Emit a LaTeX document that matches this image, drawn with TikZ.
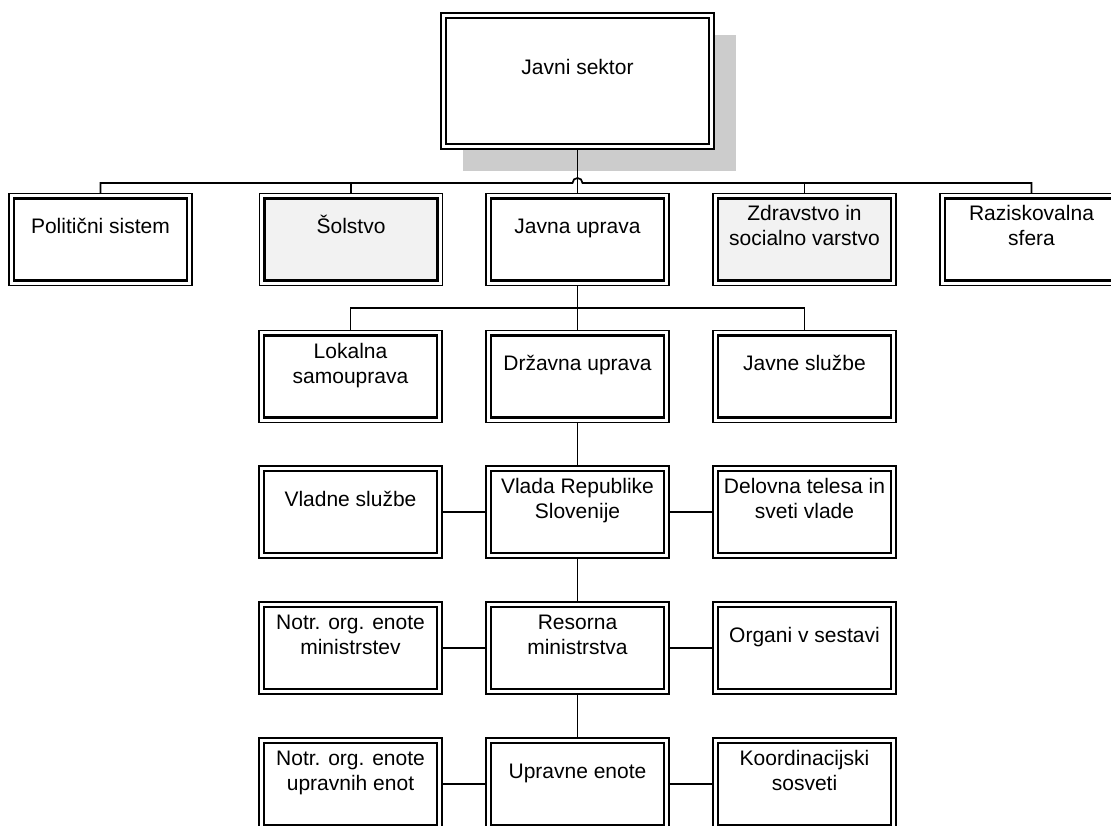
\documentclass[tikz,border=0pt]{standalone}
\usepackage{fontspec}
\setmainfont{Liberation Sans}
\usetikzlibrary{backgrounds,calc}
\definecolor{boxgray}{RGB}{242,242,242}
\definecolor{shadowgray}{RGB}{204,204,204}
\begin{document}
\begin{tikzpicture}[x=1pt,y=-1pt,
  box/.style={draw, line width=1.2pt, fill=white, minimum width=183pt, minimum height=92pt,
    inner sep=0pt, outer sep=0pt,
    path picture={\draw[line width=2.4pt, fill=#1]
      ([shift={(5pt,-5pt)}]path picture bounding box.north west) rectangle
      ([shift={(-5pt,5pt)}]path picture bounding box.south east);}},
  box/.default=white,
  txt/.style={font=\fontsize{21pt}{25pt}\selectfont, align=center, inner sep=0pt},
  conn/.style={line width=1.7pt}]
\useasboundingbox (0,0) rectangle (1111,826);
\clip (0,0) rectangle (1111,826);

% top box
\node[box, minimum width=273pt, minimum height=136pt] (js) at (577.5,81) {};
\begin{scope}[on background layer]
  \fill[shadowgray] ([shift={(22pt,-22pt)}]js.north west) rectangle ([shift={(22pt,-22pt)}]js.south east);
\end{scope}
\node[txt] (tjs) at ([yshift=11pt]js.center) {\strut Javni sektor};

% row 1
\node[box] (ps) at (100.5,239.5) {};
\node[box=boxgray] (so) at (351,239.5) {};
\node[box] (ju) at (577.5,239.5) {};
\node[box=boxgray] (zd) at (804.5,239.5) {};
\node[box] (rs) at (1031.5,239.5) {};
\node[txt] (tps) at ([yshift=11pt]ps.center) {\strut Politični sistem};
\node[txt] (tso) at ([yshift=11pt]so.center) {\strut Šolstvo};
\node[txt] (tju) at ([yshift=11pt]ju.center) {\strut Javna uprava};
\node[txt] (tzd) at ([yshift=11pt]zd.center) {\strut Zdravstvo in\\\strut socialno varstvo};
\node[txt] (trs) at ([yshift=11pt]rs.center) {\strut Raziskovalna\\\strut sfera};

% row 2
\node[box] (ls) at (350.5,376.5) {};
\node[box] (du) at (577.5,376.5) {};
\node[box] (jsl) at (804.5,376.5) {};
\node[txt] (tls) at ([yshift=11pt]ls.center) {\strut Lokalna\\\strut samouprava};
\node[txt] (tdu) at ([yshift=11pt]du.center) {\strut Državna uprava};
\node[txt] (tjsl) at ([yshift=11pt]jsl.center) {\strut Javne službe};

% row 3
\node[box] (vs) at (350.5,512) {};
\node[box] (vl) at (577.5,512) {};
\node[box] (dt) at (804.5,512) {};
\node[txt] (tvs) at ([yshift=11pt]vs.center) {\strut Vladne službe};
\node[txt] (tvl) at ([yshift=11pt]vl.center) {\strut Vlada Republike\\\strut Slovenije};
\node[txt] (tdt) at ([yshift=11pt]dt.center) {\strut Delovna telesa in\\\strut sveti vlade};

% row 4
\node[box] (nm) at (350.5,648) {};
\node[box] (rm) at (577.5,648) {};
\node[box] (os) at (804.5,648) {};
\node[txt] (tnm) at ([yshift=11pt]nm.center) {\strut Notr. org. enote\\\strut ministrstev};
\node[txt] (trm) at ([yshift=11pt]rm.center) {\strut Resorna\\\strut ministrstva};
\node[txt] (tos) at ([yshift=11pt]os.center) {\strut Organi v sestavi};

% row 5
\node[box] (nu) at (350.5,784) {};
\node[box] (ue) at (577.5,784) {};
\node[box] (ks) at (804.5,784) {};
\node[txt] (tnu) at ([yshift=11pt]nu.center) {\strut Notr. org. enote\\\strut upravnih enot};
\node[txt] (tue) at ([yshift=11pt]ue.center) {\strut Upravne enote};
\node[txt] (tks) at ([yshift=11pt]ks.center) {\strut Koordinacijski\\\strut sosveti};

% connectors
\coordinate (busA) at (577.5,183);
\coordinate (hopL) at (572.5,183);
\coordinate (busB) at (577.5,308);
\draw[conn] (js.south) -- (ju.north);
\draw[conn] (ps.north) |- (hopL) arc[start angle=180, end angle=0, radius=5pt] -| (rs.north);
\draw[conn] (so.north) -- (so.north |- busA);
\draw[conn] (zd.north) -- (zd.north |- busA);

\draw[conn] (ju.south) -- (du.north);
\draw[conn] (ls.north) |- (busB) -| (jsl.north);

\draw[conn] (du.south) -- (vl.north);
\draw[conn] (vs.east) -- (vl.west);
\draw[conn] (vl.east) -- (dt.west);

\draw[conn] (vl.south) -- (rm.north);
\draw[conn] (nm.east) -- (rm.west);
\draw[conn] (rm.east) -- (os.west);

\draw[conn] (rm.south) -- (ue.north);
\draw[conn] (nu.east) -- (ue.west);
\draw[conn] (ue.east) -- (ks.west);
\end{tikzpicture}
\end{document}
